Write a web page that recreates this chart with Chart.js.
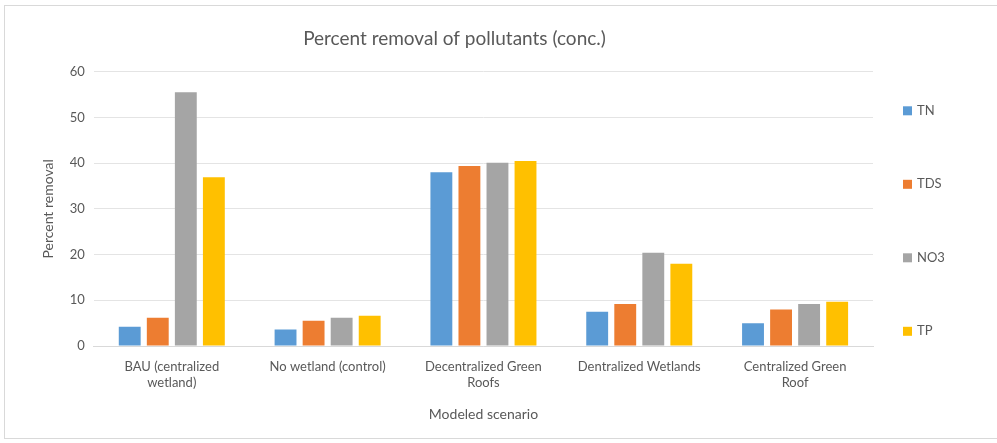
<!DOCTYPE html>
<html>
<head>
<meta charset="utf-8">
<script src="https://cdn.jsdelivr.net/npm/chart.js@4.4.1/dist/chart.umd.min.js"></script>
<style>
  body { margin: 0; background: #fff; }
  #wrap { position: absolute; left: 4px; top: 5px; width: 1000px; height: 434px; border: 1px solid #d9d9d9; box-sizing: border-box; }
  #box { position: absolute; left: 0; top: 0; width: 997px; height: 443px; }
</style>
</head>
<body>
<div id="wrap"></div>
<div id="box"><canvas id="chart"></canvas></div>
<script>
// scenarios on the x axis
const scenarios = [
    ["BAU (centralized", "wetland)"],
    "No wetland (control)",
    ["Decentralized Green", "Roofs"],
    "Dentralized Wetlands",
    ["Centralized Green", "Roof"]
];

// percent removal per pollutant
const tnValues = [4.2, 3.6, 38.0, 7.5, 5.0];
const tdsValues = [6.2, 5.5, 39.4, 9.2, 8.0];
const no3Values = [55.5, 6.2, 40.1, 20.4, 9.2];
const tpValues = [36.9, 6.6, 40.5, 18.0, 9.7];

const yTicks = [0, 10, 20, 30, 40, 50, 60];

const textColor = "#595959";
const fontName = "Lato, 'Open Sans', sans-serif";

const ctx = document.getElementById("chart").getContext("2d");

function makeSet(label, data, color) {
    return {
        label: label,
        data: data,
        backgroundColor: color,
        borderWidth: 0,
        categoryPercentage: 0.72,
        barPercentage: 0.78,
    };
}

// legend drawn as a column to the right of the plot, spaced out like the original
const sideLegend = {
    id: "sideLegend",
    afterDraw(chart) {
        const c = chart.ctx;
        const area = chart.chartArea;
        c.save();
        c.font = "13px " + fontName;
        c.textBaseline = "middle";
        chart.data.datasets.forEach((ds, i) => {
            const y = area.top + 39 + i * 73.5;
            const x = area.right + 30;
            c.fillStyle = ds.backgroundColor;
            c.fillRect(x, y - 4.5, 9, 9);
            c.fillStyle = textColor;
            c.fillText(ds.label, x + 14, y);
        });
        c.restore();
    },
};

new Chart(ctx, {
    type: "bar",
    data: {
        labels: scenarios,
        datasets: [
            makeSet("TN", tnValues, "#5B9BD5"),
            makeSet("TDS", tdsValues, "#ED7D31"),
            makeSet("NO3", no3Values, "#A5A5A5"),
            makeSet("TP", tpValues, "#FFC000"),
        ],
    },
    plugins: [sideLegend],
    options: {
        responsive: true,
        maintainAspectRatio: false,
        animation: false,
        layout: {
            padding: { left: 36, right: 124, top: 27, bottom: 16 },
        },
        scales: {
            x: {
                grid: { display: false },
                border: { color: "#d9d9d9" },
                ticks: { color: textColor, font: { family: fontName, size: 13 }, maxRotation: 0, autoSkip: false, padding: 5 },
                title: {
                    display: true,
                    text: "Modeled scenario",
                    color: textColor,
                    font: { family: fontName, size: 14 },
                    padding: { top: 11 },
                },
            },
            y: {
                min: 0,
                max: 60,
                afterBuildTicks: (axis) => {
                    axis.ticks = yTicks.map((v) => ({ value: v }));
                },
                grid: { color: "#e4e4e4", drawTicks: false },
                border: { display: false },
                ticks: { color: textColor, font: { family: fontName, size: 13 }, padding: 9 },
                title: {
                    display: true,
                    text: "Percent removal",
                    color: textColor,
                    font: { family: fontName, size: 14 },
                    padding: 4,
                },
            },
        },
        plugins: {
            title: {
                display: true,
                text: "Percent removal of pollutants (conc.)",
                color: textColor,
                font: { family: fontName, size: 19, weight: "normal" },
                padding: { top: 0, bottom: 22 },
            },
            legend: { display: false },
            tooltip: { enabled: false },
        },
    },
});
</script>
</body>
</html>
